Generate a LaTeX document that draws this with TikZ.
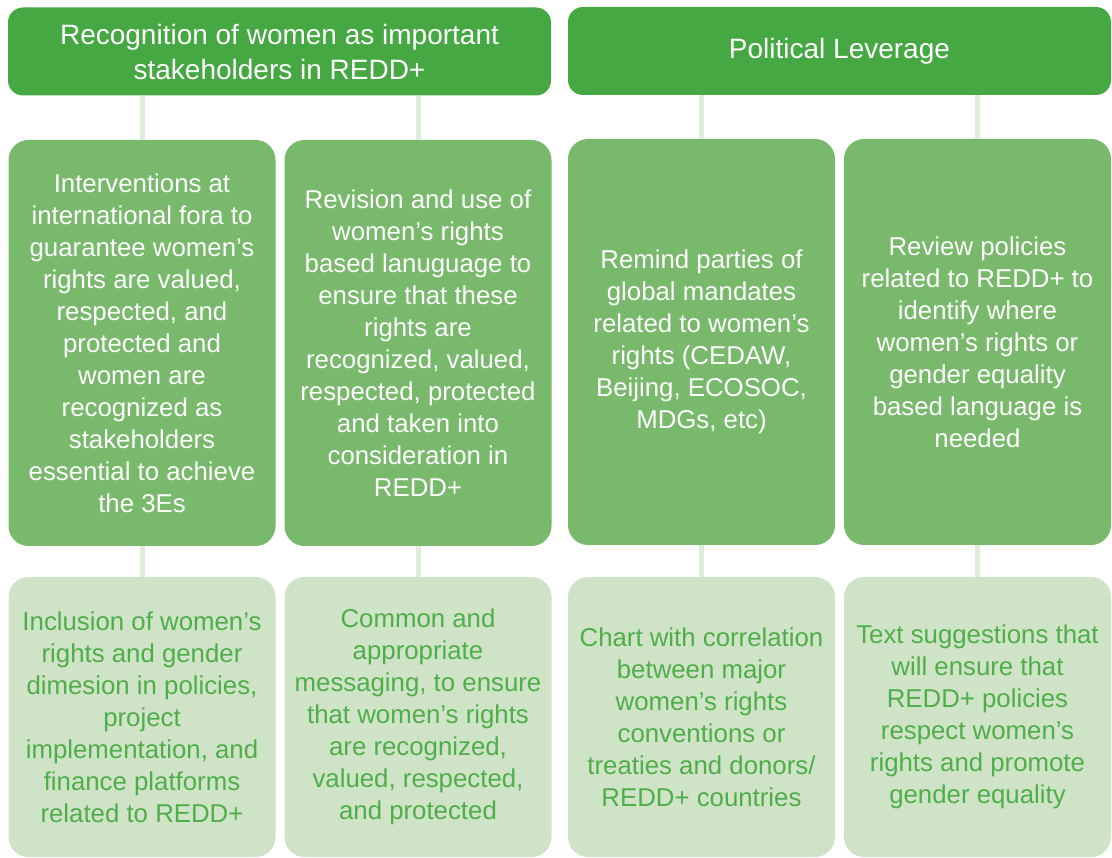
\documentclass[tikz,border=0pt]{standalone}
\usepackage{fontspec}
\setmainfont{Liberation Sans}
\definecolor{topg}{HTML}{45A843}
\definecolor{midg}{HTML}{78B96B}
\definecolor{botg}{HTML}{CFE3C7}
\definecolor{botText}{HTML}{4FAE4A}
\definecolor{linkg}{HTML}{E0EDDB}
\begin{document}
\begin{tikzpicture}[x=1pt,y=-1pt,
  topbox/.style={fill=topg, rounded corners=15pt, minimum width=543pt, minimum height=88pt, text=white, align=center, font=\fontsize{28}{35}\selectfont, inner sep=0pt},
  midbox/.style={fill=midg, rounded corners=20pt, minimum width=267pt, minimum height=406pt, text=white, align=center, font=\fontsize{25.8}{32}\selectfont, inner sep=0pt},
  botbox/.style={fill=botg, rounded corners=20pt, minimum width=267pt, minimum height=280pt, text=botText, align=center, font=\fontsize{25.8}{32}\selectfont, inner sep=0pt},
  link/.style={draw=linkg, line width=5pt}]
\useasboundingbox (0,0) rectangle (1112,858);
% top
\node[topbox] (t1) at (279.5,51.5) {Recognition of women as important\\stakeholders in REDD+};
\node[topbox] (t2) at (839.5,51) {Political Leverage};
% middle
\node[midbox] (m1) at (142,343) {Interventions at\\international fora to\\guarantee women’s\\rights are valued,\\respected, and\\protected and\\women are\\recognized as\\stakeholders\\essential to achieve\\the 3Es};
\node[midbox] (m2) at (418,343) {Revision and use of\\women’s rights\\based lanuguage to\\ensure that these\\rights are\\recognized, valued,\\respected, protected\\and taken into\\consideration in\\REDD+};
\node[midbox] (m3) at (701.5,342) {Remind parties of\\global mandates\\related to women’s\\rights (CEDAW,\\Beijing, ECOSOC,\\MDGs, etc)};
\node[midbox] (m4) at (977.5,342) {Review policies\\related to REDD+ to\\identify where\\women’s rights or\\gender equality\\based language is\\needed};
% bottom
\node[botbox] (b1) at (142,717) {Inclusion of women’s\\rights and gender\\dimesion in policies,\\project\\implementation, and\\finance platforms\\related to REDD+};
\node[botbox] (b2) at (418,717) {Common and\\appropriate\\messaging, to ensure\\that women’s rights\\are recognized,\\valued, respected,\\and protected};
\node[botbox] (b3) at (701.5,717) {Chart with correlation\\between major\\women’s rights\\conventions or\\treaties and donors/\\REDD+ countries};
\node[botbox] (b4) at (977.5,717) {Text suggestions that\\will ensure that\\REDD+ policies\\respect women’s\\rights and promote\\gender equality};
% connectors
\draw[link] (t1.south -| m1.north) -- (m1.north);
\draw[link] (t1.south -| m2.north) -- (m2.north);
\draw[link] (t2.south -| m3.north) -- (m3.north);
\draw[link] (t2.south -| m4.north) -- (m4.north);
\draw[link] (m1.south) -- (b1.north);
\draw[link] (m2.south) -- (b2.north);
\draw[link] (m3.south) -- (b3.north);
\draw[link] (m4.south) -- (b4.north);
\end{tikzpicture}
\end{document}
